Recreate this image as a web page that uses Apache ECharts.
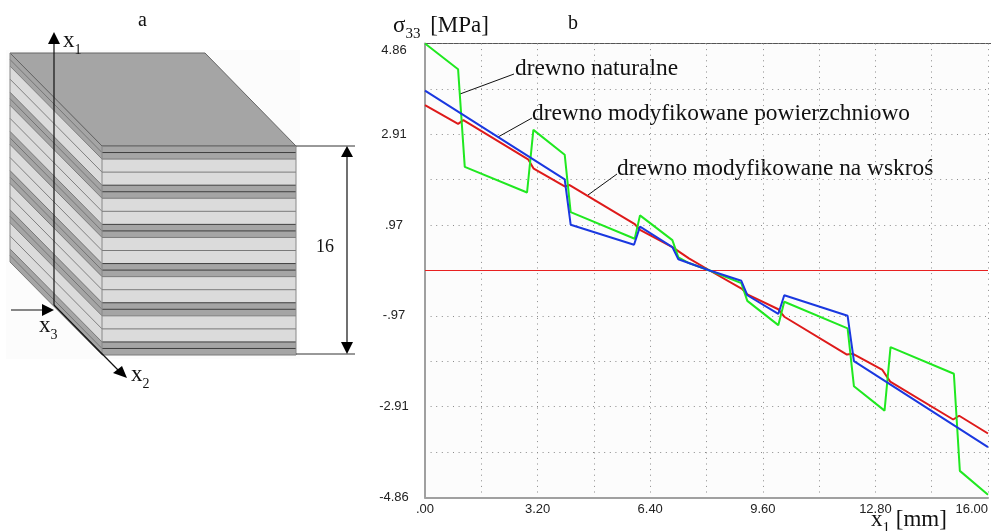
<!DOCTYPE html>
<html><head><meta charset="utf-8">
<style>html,body{margin:0;padding:0;background:#fff}#c{width:991px;height:531px}</style>
<script src="https://cdn.jsdelivr.net/npm/echarts@6/dist/echarts.min.js"></script>
</head><body><div id="c"></div>
<script>
const natural = [[0,4.86],[0.94,4.31],[1.13,2.22],[2.90,1.67],[3.08,3.01],[3.97,2.48],[4.14,1.25],[5.96,0.68],[6.11,1.18],[7.03,0.65],[7.20,0.28],[7.5,0.16],[8.09,0],[8.99,-0.27],[9.16,-0.65],[10.04,-1.17],[10.21,-0.67],[12.01,-1.24],[12.19,-2.48],[13.06,-3.0],[13.23,-1.64],[15.03,-2.21],[15.2,-4.29],[16,-4.8]];
const surface = [[0,3.85],[3.97,1.95],[4.14,0.98],[5.94,0.55],[6.11,0.94],[7.03,0.50],[7.20,0.24],[8.09,0],[8.99,-0.22],[9.16,-0.53],[10.04,-0.93],[10.21,-0.53],[12.01,-0.97],[12.19,-1.94],[16,-3.78]];
const through = [[0,3.54],[0.94,3.14],[1.09,3.22],[2.93,2.38],[3.09,2.18],[3.97,1.80],[4.11,1.83],[5.95,1.0],[6.11,0.87],[7.03,0.50],[7.5,0.26],[8.09,0],[9.02,-0.40],[9.16,-0.51],[10.04,-0.83],[10.21,-0.99],[11.99,-1.80],[12.15,-1.78],[13.0,-2.13],[13.22,-2.38],[15.01,-3.19],[15.18,-3.11],[16,-3.49]];
const zeroLine = [[0,0],[16,0]];
const xTickLabels = ['.00','3.20','6.40','9.60','12.80','16.00'];
const yTickLabels = ['-4.86','-2.91','-.97','.97','2.91','4.86'];
const layerMm = [.5,.5,1,1,.5,.5,1,1,.5,.5,1,1,.5,.5,1,1,.5,.5,1,1,.5,.5];
const layerKind = ['d','d','l','l','d','d','l','l','d','d','l','l','d','d','l','l','d','d','l','l','d','d'];

const SERIF = '"Liberation Serif","Times New Roman",serif';
const g = [];
const poly = (points, fill, stroke, lw) => g.push({type:'polygon', shape:{points}, style:{fill, stroke:stroke||null, lineWidth:lw||0}, silent:true});
const line = (x1,y1,x2,y2,stroke,lw) => g.push({type:'line', shape:{x1,y1,x2,y2}, style:{stroke, lineWidth:lw||1}, silent:true});
const text = (x,y,t,size,extra) => g.push({type:'text', x, y, style:Object.assign({text:t, font:size+'px '+SERIF, fill:'#111', verticalAlign:'middle'}, extra||{}), silent:true});
const sub = (x,y,a,b,size,subSize) => g.push({type:'text', x, y, style:{
  text:'{m|'+a[0]+'}{s|'+b+'}{m|'+a.slice(1)+'}', verticalAlign:'middle',
  rich:{m:{font:size+'px '+SERIF, fill:'#111', verticalAlign:'bottom'}, s:{font:subSize+'px '+SERIF, fill:'#111', verticalAlign:'bottom', padding:[0,0,-5,0]}}
}, silent:true});

// schematic (panel a)
const fx0=102, fx1=296, fy0=146, lx=10, ly=53, mmPx=209/16, fc={d:'#a5a5a5',l:'#dbdbdb'};
poly([[6,50],[300,50],[300,359],[6,359]],'#fcfcfc');
poly([[lx,ly],[205,ly],[fx1,fy0],[fx0,fy0]],'#a5a5a5','#666',1);
let d=0;
layerMm.forEach((t,i)=>{
  const h=t*mmPx, c=fc[layerKind[i]];
  poly([[fx0,fy0+d],[fx1,fy0+d],[fx1,fy0+d+h],[fx0,fy0+d+h]],c);
  poly([[lx,ly+d],[fx0,fy0+d],[fx0,fy0+d+h],[lx,ly+d+h]],c);
  d+=h;
});
d=0;
line(fx0,fy0,fx1,fy0,'#666',1);
line(lx,ly,fx0,fy0,'#555',.7);
layerMm.forEach((t,i)=>{
  d+=t*mmPx;
  const col = i%4===1||i%4===2 ? '#7a7a7a':'#3d3d3d';
  line(fx0,fy0+d,fx1,fy0+d,col,1);
  line(lx,ly+d,fx0,fy0+d,'#555',.7);
});
line(lx,ly,lx,ly+209,'#888',1); line(fx0,fy0,fx0,fy0+209,'#888',1); line(fx1,fy0,fx1,fy0+209,'#888',1);
line(54,305,54,42,'#111',1.2);
poly([[54,32],[48,44],[60,44]],'#000');
line(11,310,44,310,'#111',1.2);
poly([[54,310],[42,304],[42,316]],'#000');
line(54,305,118,370,'#111',1.2);
poly([[127,378],[113,373],[122,366]],'#000');
line(296,146,355,146,'#333',1); line(296,354,355,354,'#333',1);
line(347,155,347,345,'#111',1.2);
poly([[347,146],[341,157],[353,157]],'#000');
poly([[347,354],[341,342],[353,342]],'#000');
text(138,21,'a',20);
text(316,247,'16',18);
sub(63,41,'x','1',23,14);
sub(39,326,'x','3',23,14);
sub(131,375,'x','2',23,14);

// panel b annotations
g.push({type:'text', x:393, y:26, style:{text:'{g|σ}{s|33}{m| [MPa]}', verticalAlign:'middle',
  rich:{g:{font:'23px '+SERIF, fill:'#111', verticalAlign:'bottom'}, s:{font:'15px '+SERIF, fill:'#111', verticalAlign:'bottom', padding:[0,0,-4,0]}, m:{font:'23px '+SERIF, fill:'#111', verticalAlign:'bottom', padding:[0,0,0,4]}}}, silent:true});
text(568,24,'b',20);
line(460,94,514,74,'#111',1);
line(498,137,532,118,'#111',1);
line(588,195,617,174,'#111',1);
text(515,69,'drewno naturalne',23.4);
text(532,114,'drewno modyfikowane powierzchniowo',23.4);
text(617,169,'drewno modyfikowane na wskroś',23.4);
g.push({type:'text', x:871, y:520, style:{text:'{m|x}{s|1}{m| [mm]}', verticalAlign:'middle',
  rich:{m:{font:'23px '+SERIF, fill:'#111', verticalAlign:'bottom'}, s:{font:'15px '+SERIF, fill:'#111', verticalAlign:'bottom', padding:[0,0,-4,0]}}}, silent:true});
line(425,43.5,991,43.5,'#555',1);

const chart = echarts.init(document.getElementById('c'), null, {renderer:'canvas'});
const mk = (name,data,color,w,z) => ({type:'line', name, data, showSymbol:false, smooth:false, z,
  lineStyle:{color, width:w}, itemStyle:{color}, silent:true, animation:false});
const dots = {show:true, lineStyle:{color:'#8a8a8a', width:1, type:[1,4.6]}};
chart.setOption({
  animation:false,
  backgroundColor:'#fff',
  grid:{left:425, top:43.5, width:565, height:454, show:true, backgroundColor:'#fcfcfc', borderWidth:0},
  xAxis:{type:'value', min:0, max:16, interval:1.6,
    axisLine:{show:true, onZero:false, lineStyle:{color:'#a0a0a0', width:2}}, axisTick:{show:false},
    splitLine:dots,
    axisLabel:{show:true, margin:5, color:'#222', fontFamily:'Liberation Sans', fontSize:13, showMinLabel:true, showMaxLabel:true, alignMaxLabel:'right',
      formatter:v=>{const k=Math.round(v/1.6); return k%2===0? xTickLabels[k/2]:'';}}},
  yAxis:{type:'value', min:-4.86, max:4.86, interval:0.972,
    axisLine:{show:true, onZero:false, lineStyle:{color:'#a0a0a0', width:2}}, axisTick:{show:false},
    splitLine:dots,
    axisLabel:{show:true, margin:31, align:'center', color:'#222', fontFamily:'Liberation Sans', fontSize:13, showMinLabel:true, showMaxLabel:true, verticalAlignMaxLabel:'top',
      formatter:v=>{const k=Math.round((v+4.86)/0.972); return k%2===0? yTickLabels[k/2]:'';}}},
  graphic:{elements:g},
  series:[
    mk('zero',zeroLine,'#e82020',1,1),
    mk('drewno modyfikowane na wskroś',through,'#de1a1a',2,2),
    mk('drewno naturalne',natural,'#20e820',2,3),
    mk('drewno modyfikowane powierzchniowo',surface,'#1a38e0',2,4)
  ]
});
</script></body></html>
